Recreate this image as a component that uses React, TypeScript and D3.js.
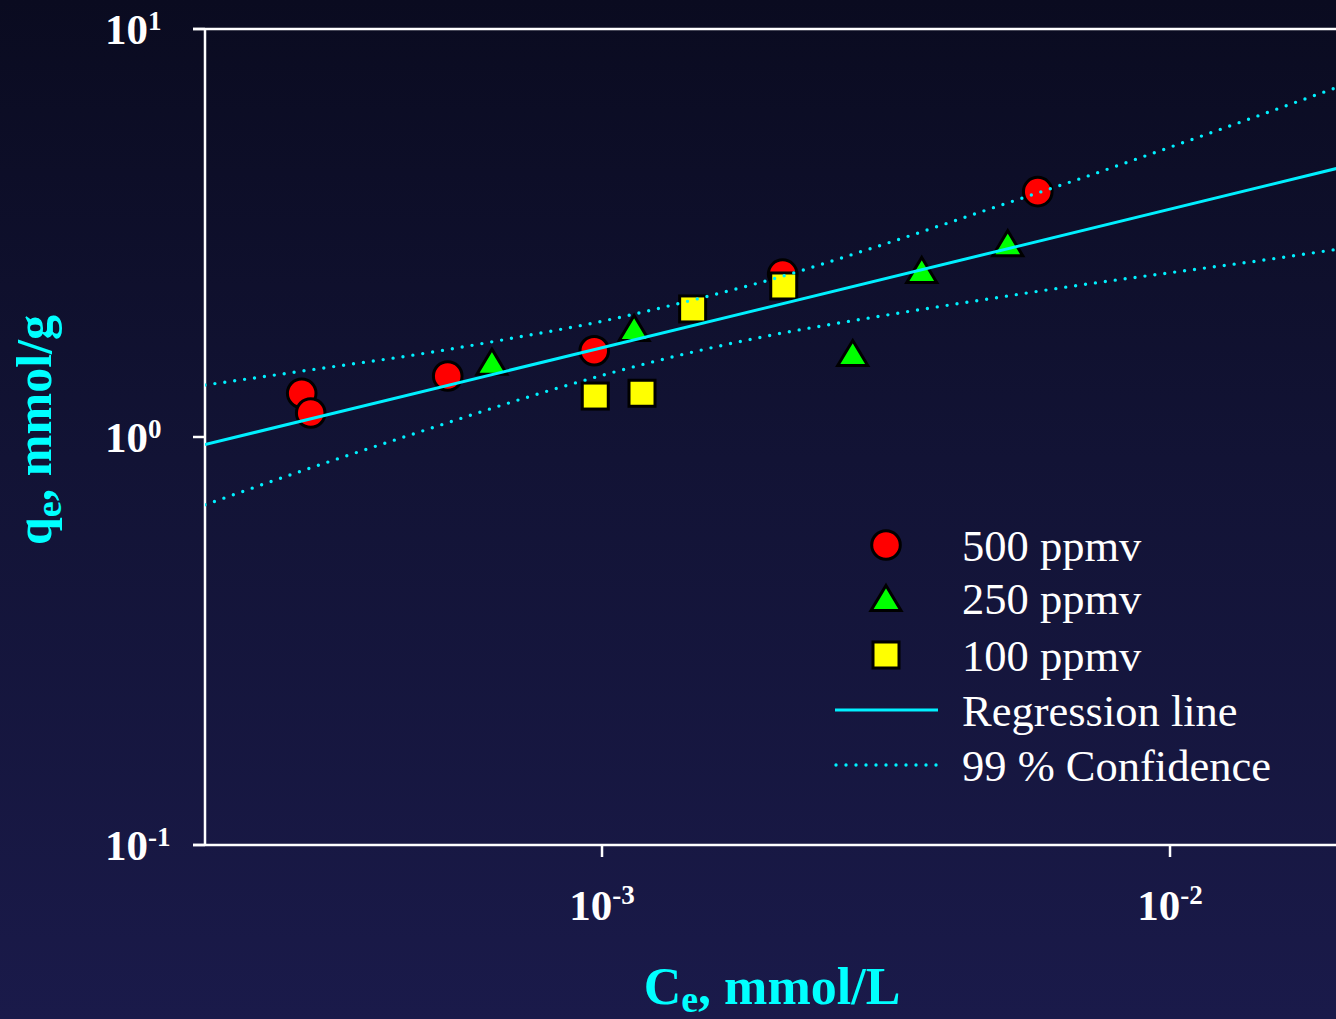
import React from 'react';
import * as d3 from 'd3';

const WIDTH = 1336;
const HEIGHT = 1019;

// 500 ppmv
const ce500 = [2.96e-4, 3.07e-4, 5.35e-4, 9.69e-4, 2.08e-3, 5.85e-3];
const qe500 = [1.28, 1.145, 1.411, 1.627, 2.508, 3.993];
// 250 ppmv
const ce250 = [6.4e-4, 1.139e-3, 2.763e-3, 3.655e-3, 5.18e-3];
const qe250 = [1.53, 1.85, 1.606, 2.566, 2.984];
// 100 ppmv
const ce100 = [9.73e-4, 1.176e-3, 1.444e-3, 2.089e-3];
const qe100 = [1.26, 1.28, 2.06, 2.345];

// regression line end points
const regressionCe = [2e-4, 2e-2];
const regressionQe = [0.958, 4.58];

// 99 % confidence band
const bandCe = [2e-4, 3e-4, 5e-4, 7e-4, 1e-3, 1.5e-3, 2e-3, 3e-3, 5e-3, 7e-3, 1e-2, 1.5e-2, 2e-2];
const bandUpper = [1.341, 1.454, 1.613, 1.75, 1.922, 2.195, 2.44, 2.909, 3.687, 4.313, 5.132, 6.275, 7.254];
const bandLower = [0.682, 0.831, 1.051, 1.223, 1.416, 1.635, 1.78, 1.965, 2.2, 2.361, 2.527, 2.728, 2.894];

const xTicks = [1e-3, 1e-2];
const xTickExp = ['-3', '-2'];
const yTicks = [10, 1, 0.1];
const yTickExp = ['1', '0', '-1'];

const legendLabels = ['500 ppmv', '250 ppmv', '100 ppmv', 'Regression line', '99 % Confidence'];

const CYAN = '#00f0ff';
const FONT = '"Liberation Serif", "Times New Roman", serif';

class App extends React.Component {
  chartRef: SVGSVGElement | null = null;

  componentDidMount() {
    this.drawChart();
  }

  drawChart() {
    const svg = d3.select(this.chartRef);
    svg.selectAll('*').remove();

    const x = d3.scaleLog().domain([2e-4, 2e-2]).range([205, 1341]);
    const y = d3.scaleLog().domain([0.1, 10]).range([845, 29]);
    const left = 205;
    const top = 29;
    const bottom = 845;

    const defs = svg.append('defs');
    const grad = defs.append('linearGradient')
      .attr('id', 'bg')
      .attr('x1', 0).attr('y1', 0).attr('x2', 0).attr('y2', 1);
    grad.append('stop').attr('offset', '0%').attr('stop-color', '#0a0b20');
    grad.append('stop').attr('offset', '45%').attr('stop-color', '#121335');
    grad.append('stop').attr('offset', '100%').attr('stop-color', '#1a1a4a');

    defs.append('clipPath').attr('id', 'plot')
      .append('rect')
        .attr('x', left).attr('y', top)
        .attr('width', WIDTH - left).attr('height', bottom - top);

    svg.append('rect')
      .attr('width', WIDTH).attr('height', HEIGHT)
      .attr('fill', 'url(#bg)');

    // axes
    const axis = svg.append('g').attr('stroke', '#fff').attr('stroke-width', 2.5);
    axis.append('line').attr('x1', left).attr('x2', left).attr('y1', top).attr('y2', bottom);
    axis.append('line').attr('x1', left - 12).attr('x2', WIDTH).attr('y1', top).attr('y2', top);
    axis.append('line').attr('x1', left - 12).attr('x2', WIDTH).attr('y1', bottom).attr('y2', bottom);
    axis.selectAll('.ytick').data(yTicks).enter()
      .append('line')
        .attr('x1', left - 12).attr('x2', left)
        .attr('y1', (d) => y(d)).attr('y2', (d) => y(d));
    axis.selectAll('.xtick').data(xTicks).enter()
      .append('line')
        .attr('x1', (d) => x(d)).attr('x2', (d) => x(d))
        .attr('y1', bottom).attr('y2', bottom + 12);

    // tick labels
    const yLabels = svg.selectAll('.ylab').data(yTicks).enter()
      .append('text')
        .attr('x', 105)
        .attr('y', (d) => y(d) + 15)
        .attr('fill', '#fff')
        .attr('font-family', FONT)
        .attr('font-weight', 'bold')
        .attr('font-size', 43);
    yLabels.append('tspan').text('10');
    yLabels.append('tspan')
      .attr('font-size', 27).attr('dy', -14)
      .text((d, i) => yTickExp[i]);

    const xLabels = svg.selectAll('.xlab').data(xTicks).enter()
      .append('text')
        .attr('x', (d) => x(d))
        .attr('y', 920)
        .attr('text-anchor', 'middle')
        .attr('fill', '#fff')
        .attr('font-family', FONT)
        .attr('font-weight', 'bold')
        .attr('font-size', 43);
    xLabels.append('tspan').text('10');
    xLabels.append('tspan')
      .attr('font-size', 27).attr('dy', -16)
      .text((d, i) => xTickExp[i]);

    // axis titles
    const yTitle = svg.append('text')
      .attr('transform', 'translate(51, 430) rotate(-90)')
      .attr('text-anchor', 'middle')
      .attr('fill', '#00ffff')
      .attr('font-family', FONT)
      .attr('font-weight', 'bold')
      .attr('font-size', 50);
    yTitle.append('tspan').text('q');
    yTitle.append('tspan').attr('font-size', 36).attr('dy', 10).text('e');
    yTitle.append('tspan').attr('dy', -10).text(', mmol/g');

    const xTitle = svg.append('text')
      .attr('x', 772).attr('y', 1004)
      .attr('text-anchor', 'middle')
      .attr('fill', '#00ffff')
      .attr('font-family', FONT)
      .attr('font-weight', 'bold')
      .attr('font-size', 52);
    xTitle.append('tspan').text('C');
    xTitle.append('tspan').attr('font-size', 38).attr('dy', 8).text('e');
    xTitle.append('tspan').attr('dy', -8).text(', mmol/L');

    // markers
    const plot = svg.append('g').attr('clip-path', 'url(#plot)');
    const circle = (g, cx, cy) => g.append('circle')
      .attr('cx', cx).attr('cy', cy).attr('r', 14.3)
      .attr('fill', '#ff0000').attr('stroke', '#000').attr('stroke-width', 3);
    const triangle = (g, cx, cy) => g.append('path')
      .attr('d', `M${cx},${cy - 12.5}L${cx + 15},${cy + 12.5}L${cx - 15},${cy + 12.5}Z`)
      .attr('fill', '#00ff00').attr('stroke', '#000').attr('stroke-width', 3)
      .attr('stroke-linejoin', 'miter');
    const square = (g, cx, cy) => g.append('rect')
      .attr('x', cx - 13).attr('y', cy - 13).attr('width', 26).attr('height', 26)
      .attr('fill', '#ffff00').attr('stroke', '#000').attr('stroke-width', 3);

    ce500.forEach((c, i) => circle(plot, x(c), y(qe500[i])));
    ce250.forEach((c, i) => triangle(plot, x(c), y(qe250[i])));
    ce100.forEach((c, i) => square(plot, x(c), y(qe100[i])));

    // regression and confidence lines
    const line = d3.line()
      .x((d) => x(d[0]))
      .y((d) => y(d[1]))
      .curve(d3.curveMonotoneX);

    plot.append('path')
      .attr('d', line(regressionCe.map((c, i) => [c, regressionQe[i]])))
      .attr('fill', 'none').attr('stroke', CYAN).attr('stroke-width', 3);

    [bandUpper, bandLower].forEach((band) => {
      plot.append('path')
        .attr('d', line(bandCe.map((c, i) => [c, band[i]])))
        .attr('fill', 'none').attr('stroke', CYAN).attr('stroke-width', 3.4)
        .attr('stroke-linecap', 'round')
        .attr('stroke-dasharray', '0 10');
    });

    // legend
    const legend = svg.append('g');
    const rowY = [545, 598, 655, 710, 765];
    circle(legend, 886, rowY[0]);
    triangle(legend, 886, rowY[1]);
    square(legend, 886, rowY[2]);
    legend.append('line')
      .attr('x1', 835).attr('x2', 938).attr('y1', rowY[3]).attr('y2', rowY[3])
      .attr('stroke', CYAN).attr('stroke-width', 3);
    legend.append('line')
      .attr('x1', 836).attr('x2', 938).attr('y1', rowY[4]).attr('y2', rowY[4])
      .attr('stroke', CYAN).attr('stroke-width', 3.4)
      .attr('stroke-linecap', 'round')
      .attr('stroke-dasharray', '0 10');
    legend.selectAll('.leglab').data(legendLabels).enter()
      .append('text')
        .attr('x', 962)
        .attr('y', (d, i) => rowY[i] + 16)
        .attr('fill', '#fff')
        .attr('font-family', FONT)
        .attr('font-size', 44.5)
        .text((d) => d);
  }

  render() {
    return (
      <svg
        ref={(r) => { this.chartRef = r; }}
        width={WIDTH}
        height={HEIGHT}
        style={{ position: 'absolute', left: 0, top: 0, display: 'block' }}
      />
    );
  }
}

export default App;
